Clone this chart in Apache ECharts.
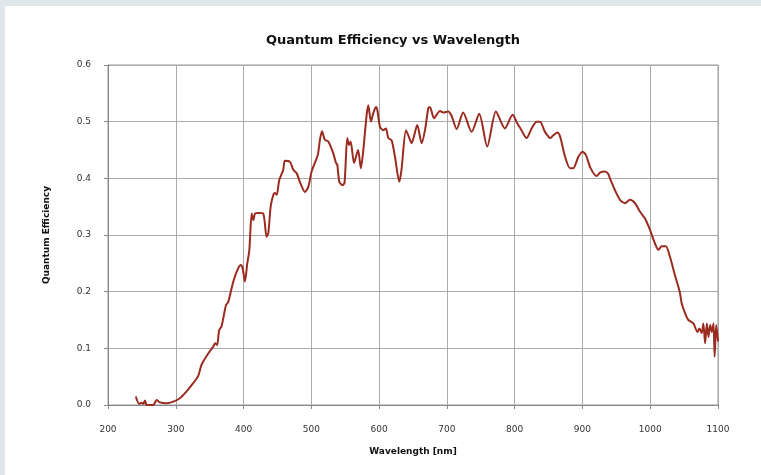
<!DOCTYPE html>
<html><head><meta charset="utf-8">
<script src="https://cdn.jsdelivr.net/npm/echarts@6/dist/echarts.min.js"></script>
<style>html,body{margin:0;padding:0;}#c{width:761px;height:475px;}</style>
</head><body><div id="c"></div>
<script>
const wavelengths = [241,246,249.7,252,254.6,257,266.8,271.8,275.7,286.5,296.4,306,316,323.4,333,338,348,355.4,357.9,361,364,367.6,374,377.5,384.9,392,396,398.7,402,405.5,408.5,412,414.4,417,421.8,429,434,436.5,440,444,446.4,448.9,452.7,458.6,461,468.5,473.4,478.4,483,490.6,495.5,500.4,507.8,510,512.7,515.7,520,525,532.4,536.4,538.3,541.3,546,549,553,555.6,558,563,569,573,576.7,581.6,584,588,591.4,595.4,597.3,601.3,606,610,613.6,618.5,623.4,629.8,633,639.7,645.6,648,656.3,662.8,667.7,672.6,675,681,689.8,694.7,702,707,714.4,724,736.5,747.7,759.5,772.4,785.6,797,803.8,810,817.6,825,832.4,837.4,844.7,853,857,863,867,874.4,881.6,886.5,894,900.3,905.2,912,921,925.9,933,938,940.6,948,955.4,962.8,970,977.6,985,992.3,999.7,1007,1012,1017,1023,1029,1036.5,1041.4,1044,1046.5,1051.4,1056.3,1063.7,1069.6,1072.5,1076,1078.4,1081,1083.5,1086,1088.4,1091,1093.4,1095,1097.4,1100];
const qe = [0.015,0.002,0.004,0.002,0.008,0,0,0.009,0.005,0.003,0.006,0.012,0.024,0.035,0.051,0.071,0.091,0.103,0.109,0.106,0.132,0.139,0.176,0.182,0.218,0.241,0.247,0.241,0.218,0.25,0.273,0.338,0.326,0.338,0.339,0.338,0.297,0.303,0.35,0.371,0.374,0.371,0.397,0.415,0.431,0.429,0.415,0.409,0.394,0.376,0.385,0.412,0.435,0.444,0.468,0.483,0.468,0.465,0.444,0.427,0.424,0.394,0.388,0.392,0.471,0.459,0.465,0.427,0.45,0.418,0.45,0.512,0.529,0.5,0.515,0.526,0.521,0.491,0.485,0.488,0.471,0.467,0.438,0.394,0.415,0.485,0.468,0.462,0.494,0.462,0.485,0.524,0.526,0.506,0.519,0.516,0.518,0.51,0.487,0.516,0.482,0.514,0.456,0.518,0.488,0.512,0.497,0.485,0.471,0.488,0.5,0.5,0.482,0.471,0.476,0.481,0.474,0.438,0.418,0.418,0.438,0.447,0.441,0.418,0.404,0.41,0.412,0.408,0.4,0.379,0.362,0.356,0.362,0.356,0.341,0.329,0.309,0.285,0.274,0.28,0.28,0.262,0.229,0.209,0.197,0.179,0.162,0.15,0.144,0.129,0.135,0.127,0.144,0.109,0.144,0.12,0.141,0.129,0.144,0.085,0.141,0.112];
const titleText = 'Quantum Efficiency vs Wavelength';
const xName = 'Wavelength [nm]';
const yName = 'Quantum Efficiency';

const chart = echarts.init(document.getElementById('c'), null, {renderer:'canvas'});
const font = 'DejaVu Sans, Verdana, sans-serif';
chart.setOption({
  backgroundColor: '#dfe7eb',
  animation: false,
  graphic: [{type:'rect', shape:{x:5,y:6,width:760,height:475}, style:{fill:'#ffffff'}, z:-10}],
  title: {text: titleText, left: 388, top: 29, textAlign:'center',
    textStyle:{fontFamily:font, fontSize:13, fontWeight:'bold', color:'#111'}},
  grid: {left:108, right:43, top:65, bottom:70, show:true, borderColor:'#999', borderWidth:1},
  xAxis: {type:'value', min:200, max:1100, interval:100,
    name: xName, nameLocation:'middle', nameGap:42,
    nameTextStyle:{fontFamily:font, fontSize:9, fontWeight:'bold', color:'#111'},
    axisLine:{lineStyle:{color:'#888', width:1}},
    axisTick:{show:true, length:4, lineStyle:{color:'#888'}},
    axisLabel:{fontFamily:font, fontSize:9, color:'#333', margin:20, formatter: v => String(v)},
    splitLine:{show:true, lineStyle:{color:'#aaa', width:1}}},
  yAxis: {type:'value', min:0, max:0.6, interval:0.1,
    name: yName, nameLocation:'middle', nameGap:57, nameRotate:90,
    nameTextStyle:{fontFamily:font, fontSize:9, fontWeight:'bold', color:'#111'},
    axisLine:{show:true, lineStyle:{color:'#888', width:1}},
    axisTick:{show:true, length:4, lineStyle:{color:'#888'}},
    axisLabel:{fontFamily:font, fontSize:9, color:'#333', margin:17, formatter: v => v.toFixed(1)},
    splitLine:{show:true, lineStyle:{color:'#aaa', width:1}}},
  series: [{type:'line', data: wavelengths.map((w,i)=>[w, qe[i]]), showSymbol:false,
    lineStyle:{color:'#9b2a1f', width:2}, smooth:0.25}]
});
</script></body></html>
